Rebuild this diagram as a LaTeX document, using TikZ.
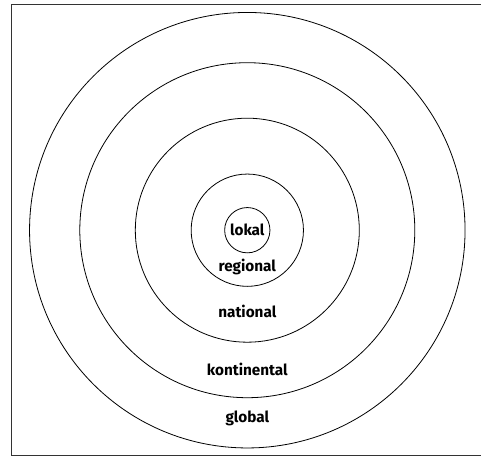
\documentclass[tikz,border=0pt]{standalone}
\usepackage{fontspec}
\setmainfont{Fira Sans}
\begin{document}
\begin{tikzpicture}[x=1pt,y=-1pt,
  ring/.style={draw=black,line width=0.8pt,circle,inner sep=0pt},
  lab/.style={font=\bfseries\fontsize{15.3}{17}\selectfont,inner sep=0pt}]
\useasboundingbox (0,0) rectangle (481,457);
\draw[line width=1.2pt,draw=black!80] (490,4.8) -- (11.8,4.8) -- (11.8,455.8) -- (490,455.8);
\coordinate (c) at (247.3,230.2);
\node[ring,minimum size=435.5pt] (g) at (c) {};
\node[ring,minimum size=335pt] (k) at (c) {};
\node[ring,minimum size=224pt] (n) at (c) {};
\node[ring,minimum size=112.3pt] (r) at (c) {};
\node[ring,minimum size=45.3pt] (l) at (c) {};
\node[lab] (tl) at (247.3,230.2) {lokal};
\node[lab] (tr) at (247.3,266.7) {regional};
\node[lab] (tn) at (247.3,311.7) {national};
\node[lab] (tk) at (247.3,369) {kontinental};
\node[lab] (tg) at (247.3,418.3) {global};
\end{tikzpicture}
\end{document}
